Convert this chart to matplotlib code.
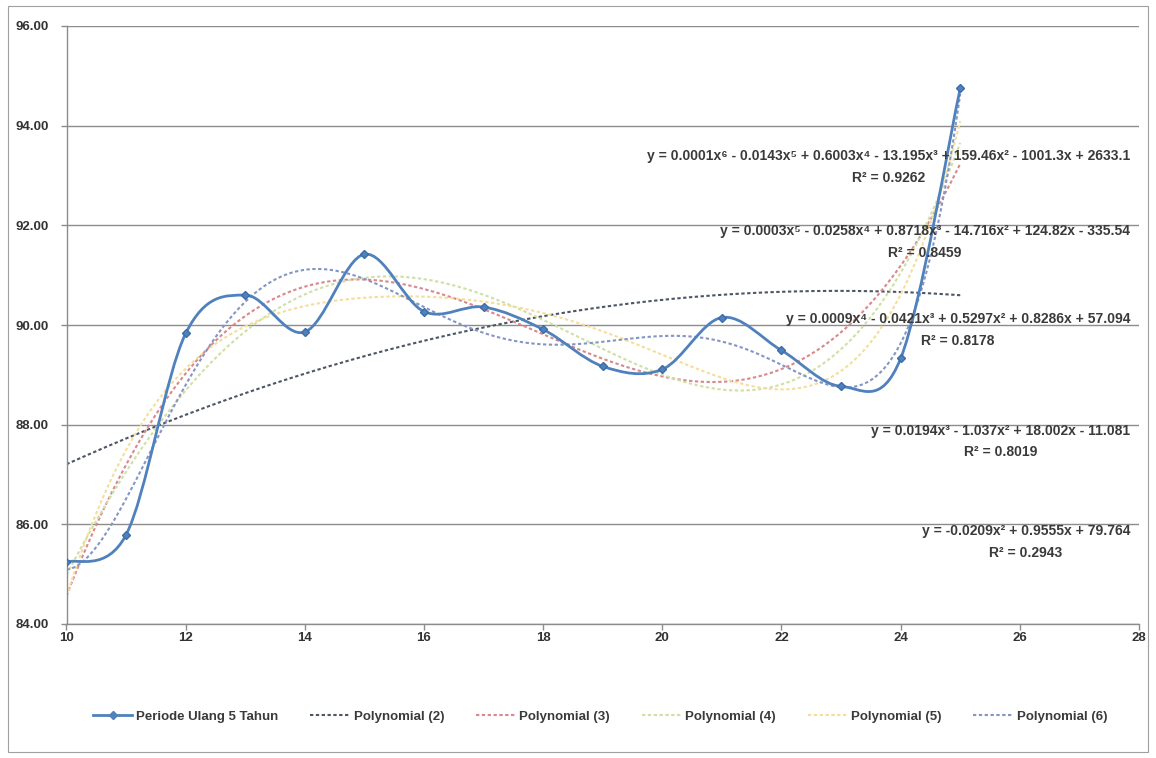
import numpy as np
import matplotlib.pyplot as plt
from matplotlib.path import Path
from matplotlib.patches import PathPatch, Rectangle
from matplotlib.lines import Line2D

plt.rcParams['font.family'] = ['Liberation Sans', 'DejaVu Sans']

# data periode ulang
x_data = [10, 11, 12, 13, 14, 15, 16, 17, 18, 19, 20, 21, 22, 23, 24, 25]
y_data = [85.24, 85.79, 89.83, 90.60, 89.86, 91.42, 90.27, 90.36,
          89.91, 89.17, 89.11, 90.15, 89.49, 88.77, 89.33, 94.75]

derajat = [2, 3, 4, 5, 6]
persamaan = [
    'y = -0.0209x\u00b2 + 0.9555x + 79.764',
    'y = 0.0194x\u00b3 - 1.037x\u00b2 + 18.002x - 11.081',
    'y = 0.0009x\u2074 - 0.0421x\u00b3 + 0.5297x\u00b2 + 0.8286x + 57.094',
    'y = 0.0003x\u2075 - 0.0258x\u2074 + 0.8718x\u00b3 - 14.716x\u00b2 + 124.82x - 335.54',
    'y = 0.0001x\u2076 - 0.0143x\u2075 + 0.6003x\u2074 - 13.195x\u00b3 + 159.46x\u00b2 - 1001.3x + 2633.1',
]
r2_teks = ['R\u00b2 = 0.2943', 'R\u00b2 = 0.8019', 'R\u00b2 = 0.8178',
           'R\u00b2 = 0.8459', 'R\u00b2 = 0.9262']

warna_seri = '#4F81BD'
warna_tren = ['#4d5666', '#d9888c', '#cfe0a6', '#f5de9c', '#8396c4']
# posisi tengah-vertikal blok label (persamaan + R2), rata kanan di x = 27.85
posisi_y_label = [85.64, 87.66, 89.90, 91.67, 93.17]

fig = plt.figure(figsize=(11.56, 7.58), dpi=100)
ax = fig.add_axes([66.5 / 1156, 1 - 624 / 758, (1139 - 66.5) / 1156, 598 / 758])

# bingkai luar grafik
fig.patches.append(Rectangle((8 / 1156, 6 / 758), 1140 / 1156, 746 / 758,
                             transform=fig.transFigure, fill=False,
                             edgecolor='#a0a0a0', linewidth=0.8))

ax.set_xlim(10, 28)
ax.set_ylim(84, 96)
ax.set_xticks(range(10, 29, 2))
ax.set_yticks(range(84, 97, 2))
ax.yaxis.set_major_formatter(plt.FormatStrFormatter('%.2f'))
ax.grid(axis='y', color='#8c8c8c', linewidth=1.0)
ax.set_axisbelow(True)
for s in ['top', 'right']:
    ax.spines[s].set_visible(False)
for s in ['left', 'bottom']:
    ax.spines[s].set_color('#8c8c8c')
    ax.spines[s].set_linewidth(1.0)
ax.tick_params(axis='both', colors='#8c8c8c', length=4, width=1.0,
               labelcolor='#333333', labelsize=9.5)
ax.tick_params(axis='y', pad=9)
ax.tick_params(axis='x', pad=2)
for lbl in ax.get_xticklabels() + ax.get_yticklabels():
    lbl.set_fontweight('bold')

# garis tren polinomial
xs = np.linspace(x_data[0], x_data[-1], 400)
for d, c in zip(derajat, warna_tren):
    koef = np.polyfit(x_data, y_data, d)
    ax.plot(xs, np.polyval(koef, xs), color=c, linewidth=1.5,
            linestyle=(0, (1.6, 1.2)), zorder=2)

# garis halus (Catmull-Rom -> Bezier) melalui titik data
p = np.column_stack([x_data, y_data]).astype(float)
p_ext = np.vstack([p[0], p, p[-1]])
verts = [tuple(p[0])]
codes = [Path.MOVETO]
for i in range(1, len(p_ext) - 2):
    a, b, c_, d_ = p_ext[i - 1], p_ext[i], p_ext[i + 1], p_ext[i + 2]
    verts += [tuple(b + (c_ - a) / 6), tuple(c_ - (d_ - b) / 6), tuple(c_)]
    codes += [Path.CURVE4] * 3
ax.add_patch(PathPatch(Path(verts, codes), facecolor='none',
                       edgecolor=warna_seri, linewidth=2.0, zorder=3))
ax.plot(x_data, y_data, linestyle='none', marker='D', markersize=4,
        color=warna_seri, markeredgecolor='#3d6da8', zorder=4)

# label persamaan dan R2
for py, eq, r2 in zip(posisi_y_label, persamaan, r2_teks):
    ax.text(27.85, py, eq + '\n' + r2, ha='right', va='center',
            multialignment='center', linespacing=1.7, fontsize=10,
            fontweight='bold', color='#3a3a3a', zorder=5)

handles = [Line2D([0], [0], color=warna_seri, linewidth=2, marker='D',
                  markersize=4, label='Periode Ulang 5 Tahun')]
for d, c in zip(derajat, warna_tren):
    handles.append(Line2D([0], [0], color=c, linewidth=1.5,
                          linestyle=(0, (1.6, 1.2)), label=f'Polynomial ({d})'))
leg = ax.legend(handles=handles, loc='center', bbox_to_anchor=(0.4975, -0.155),
                ncol=6, frameon=False, handlelength=3.0, columnspacing=2.4,
                handletextpad=0.3, prop={'size': 9.5, 'weight': 'bold'})
for t in leg.get_texts():
    t.set_color('#3a3a3a')

fig.savefig('out.png', dpi=100)
